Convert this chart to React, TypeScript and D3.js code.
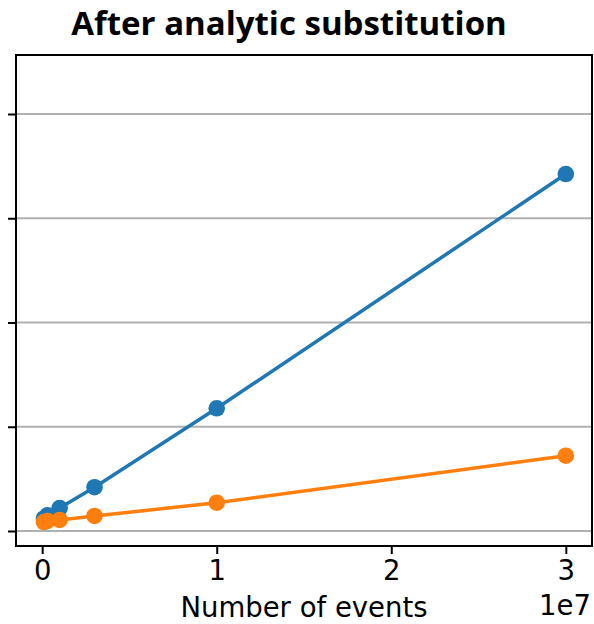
import * as d3 from "d3";
import { useEffect, useRef } from "react";

// number of events
const events = [1e5, 3e5, 1e6, 3e6, 1e7, 3e7];
// timings (y-axis has no labels, units are tick steps)
const blueSeries = [0.12, 0.15, 0.22, 0.42, 1.177, 3.424];
const orangeSeries = [0.086, 0.096, 0.106, 0.144, 0.271, 0.722];
const xTicks = [0, 1e7, 2e7, 3e7];
const yTicks = [0, 1, 2, 3, 4];

const W = 594;
const H = 624;

const App = () => {
  const ref = useRef<SVGSVGElement>(null);

  useEffect(() => {
    const svg = d3.select(ref.current);
    svg.selectAll("*").remove();

    const margin = { top: 55, bottom: 78, left: 16, right: 2 };
    const bw = W - margin.left - margin.right;
    const bh = H - margin.top - margin.bottom;

    const x = d3.scaleLinear().domain([-0.15e7, 3.15e7]).range([0, bw]);
    const y = d3.scaleLinear().domain([-0.144, 4.566]).range([bh, 0]);

    const g = svg.append("g").attr("transform", `translate(${margin.left},${margin.top})`);

    // сетка
    g.selectAll(".grid")
      .data(yTicks)
      .enter()
      .append("line")
      .attr("x1", 0)
      .attr("x2", bw)
      .attr("y1", d => y(d))
      .attr("y2", d => y(d))
      .style("stroke", "#b0b0b0")
      .style("stroke-width", 2);

    const line = d3.line<number>()
      .x((_, i) => x(events[i]))
      .y(d => y(d));

    const series = [
      { values: blueSeries, color: "#1f77b4" },
      { values: orangeSeries, color: "#ff7f0e" },
    ];
    series.forEach(s => {
      g.append("path")
        .datum(s.values)
        .attr("d", line)
        .style("fill", "none")
        .style("stroke", s.color)
        .style("stroke-width", 3.5);
      g.selectAll(null)
        .data(s.values)
        .enter()
        .append("circle")
        .attr("cx", (_, i) => x(events[i]))
        .attr("cy", d => y(d))
        .attr("r", 8.3)
        .style("fill", s.color);
    });

    // рамка
    g.append("rect")
      .attr("x", 0)
      .attr("y", 0)
      .attr("width", bw)
      .attr("height", bh)
      .style("fill", "none")
      .style("stroke", "black")
      .style("stroke-width", 2);

    // оси
    const xAxis = d3.axisBottom(x).tickValues(xTicks).tickSize(8).tickPadding(6)
      .tickFormat(d => String(+d / 1e7));
    const ax = g.append("g").attr("transform", `translate(0,${bh})`).call(xAxis);
    ax.select(".domain").remove();
    ax.selectAll("line").style("stroke-width", 2);
    ax.selectAll("text")
      .style("font-family", "DejaVu Sans")
      .style("font-size", "27.5px")
      .style("fill", "black");

    const yAxis = d3.axisLeft(y).tickValues(yTicks).tickSize(8).tickFormat(() => "");
    const ay = g.append("g").call(yAxis);
    ay.select(".domain").remove();
    ay.selectAll("line").style("stroke-width", 2);

    svg.append("text")
      .attr("x", 304)
      .attr("y", 617)
      .attr("text-anchor", "middle")
      .style("font-family", "DejaVu Sans")
      .style("font-size", "27.5px")
      .text("Number of events");

    svg.append("text")
      .attr("x", 591)
      .attr("y", 615)
      .attr("text-anchor", "end")
      .style("font-family", "DejaVu Sans")
      .style("font-size", "27.5px")
      .text("1e7");

    svg.append("text")
      .attr("x", 289)
      .attr("y", 35)
      .attr("text-anchor", "middle")
      .style("font-family", "Open Sans")
      .style("font-weight", "bold")
      .style("font-size", "33px")
      .text("After analytic substitution");
  }, []);

  return (
    <svg ref={ref} width={W} height={H}
      style={{ position: "absolute", left: 0, top: 0, background: "white" }} />
  );
};

export default App;
